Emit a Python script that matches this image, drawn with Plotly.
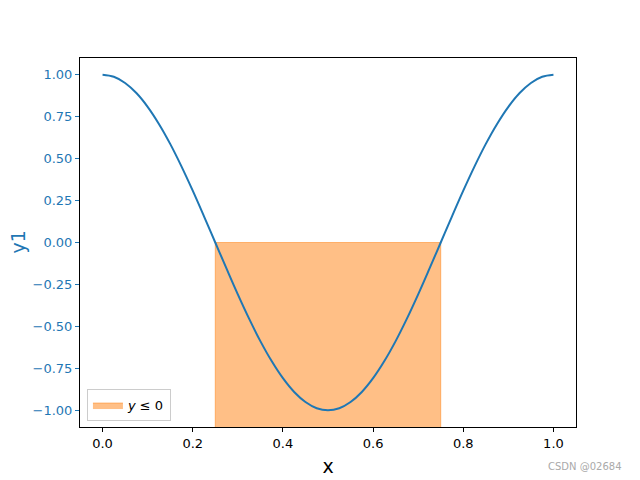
import plotly.graph_objects as go

# curve values
x_vals = [0.0, 0.025, 0.05, 0.075, 0.1, 0.125, 0.15, 0.175, 0.2, 0.225, 0.25,
          0.275, 0.3, 0.325, 0.35, 0.375, 0.4, 0.425, 0.45, 0.475, 0.5,
          0.525, 0.55, 0.575, 0.6, 0.625, 0.65, 0.675, 0.7, 0.725, 0.75,
          0.775, 0.8, 0.825, 0.85, 0.875, 0.9, 0.925, 0.95, 0.975, 1.0]
y_vals = [1.0, 0.988, 0.951, 0.891, 0.809, 0.707, 0.588, 0.454, 0.309, 0.156, 0.0,
          -0.156, -0.309, -0.454, -0.588, -0.707, -0.809, -0.891, -0.951, -0.988, -1.0,
          -0.988, -0.951, -0.891, -0.809, -0.707, -0.588, -0.454, -0.309, -0.156, 0.0,
          0.156, 0.309, 0.454, 0.588, 0.707, 0.809, 0.891, 0.951, 0.988, 1.0]

# shaded region (y <= 0)
fill_x = [0.25, 0.25, 0.75, 0.75]
fill_y = [-1.1, 0.0, 0.0, -1.1]

x_ticks = [0.0, 0.2, 0.4, 0.6, 0.8, 1.0]
x_tick_labels = ["0.0", "0.2", "0.4", "0.6", "0.8", "1.0"]
y_ticks = [1.0, 0.75, 0.5, 0.25, 0.0, -0.25, -0.5, -0.75, -1.0]
y_tick_labels = ["1.00", "0.75", "0.50", "0.25", "0.00", "−0.25", "−0.50", "−0.75", "−1.00"]

blue = "#1f77b4"
font = "DejaVu Sans"

fig = go.Figure()
fig.add_trace(go.Scatter(
    x=fill_x, y=fill_y, fill="toself", mode="lines",
    line=dict(color="rgba(255,127,14,0.5)", width=1),
    fillcolor="rgba(255,127,14,0.5)",
    name="<i>y</i> ≤ 0", showlegend=True,
))
fig.add_trace(go.Scatter(
    x=x_vals, y=y_vals, mode="lines",
    line=dict(color=blue, width=2, shape="spline"),
    showlegend=False,
))

fig.update_layout(
    width=640, height=480,
    margin=dict(l=72, r=72, t=50, b=61, autoexpand=False),
    paper_bgcolor="white", plot_bgcolor="white",
    font=dict(family=font, size=13, color="black"),
    legend=dict(
        x=0.014, y=0.016, xanchor="left", yanchor="bottom",
        bgcolor="rgba(255,255,255,0.8)", bordercolor="#cccccc", borderwidth=1,
        font=dict(size=13),
    ),
    xaxis=dict(
        range=[-0.05, 1.05], tickvals=x_ticks, ticktext=x_tick_labels,
        showgrid=False, zeroline=False, showline=True, linecolor="black",
        linewidth=1, mirror=True, ticks="outside", ticklen=4, tickcolor="black",
        automargin=False,
        title=dict(text="x", font=dict(size=19), standoff=10),
    ),
    yaxis=dict(
        range=[-1.1, 1.1], tickvals=y_ticks, ticktext=y_tick_labels,
        showgrid=False, zeroline=False, showline=True, linecolor="black",
        linewidth=1, mirror=True, ticks="outside", ticklen=4, tickcolor=blue,
        tickfont=dict(color=blue), automargin=False,
    ),
    annotations=[
        dict(
            text="y1", xref="paper", yref="paper", x=-0.127, y=0.5,
            xanchor="center", yanchor="middle", textangle=-90, showarrow=False,
            font=dict(size=19, color=blue, family=font),
        ),
        dict(
            text="CSDN @02684", xref="paper", yref="paper", x=1.097, y=-0.106,
            xanchor="right", yanchor="middle", showarrow=False,
            font=dict(size=10, color="#aaaaaa", family=font),
        ),
    ],
)

fig.write_html("out.html")
